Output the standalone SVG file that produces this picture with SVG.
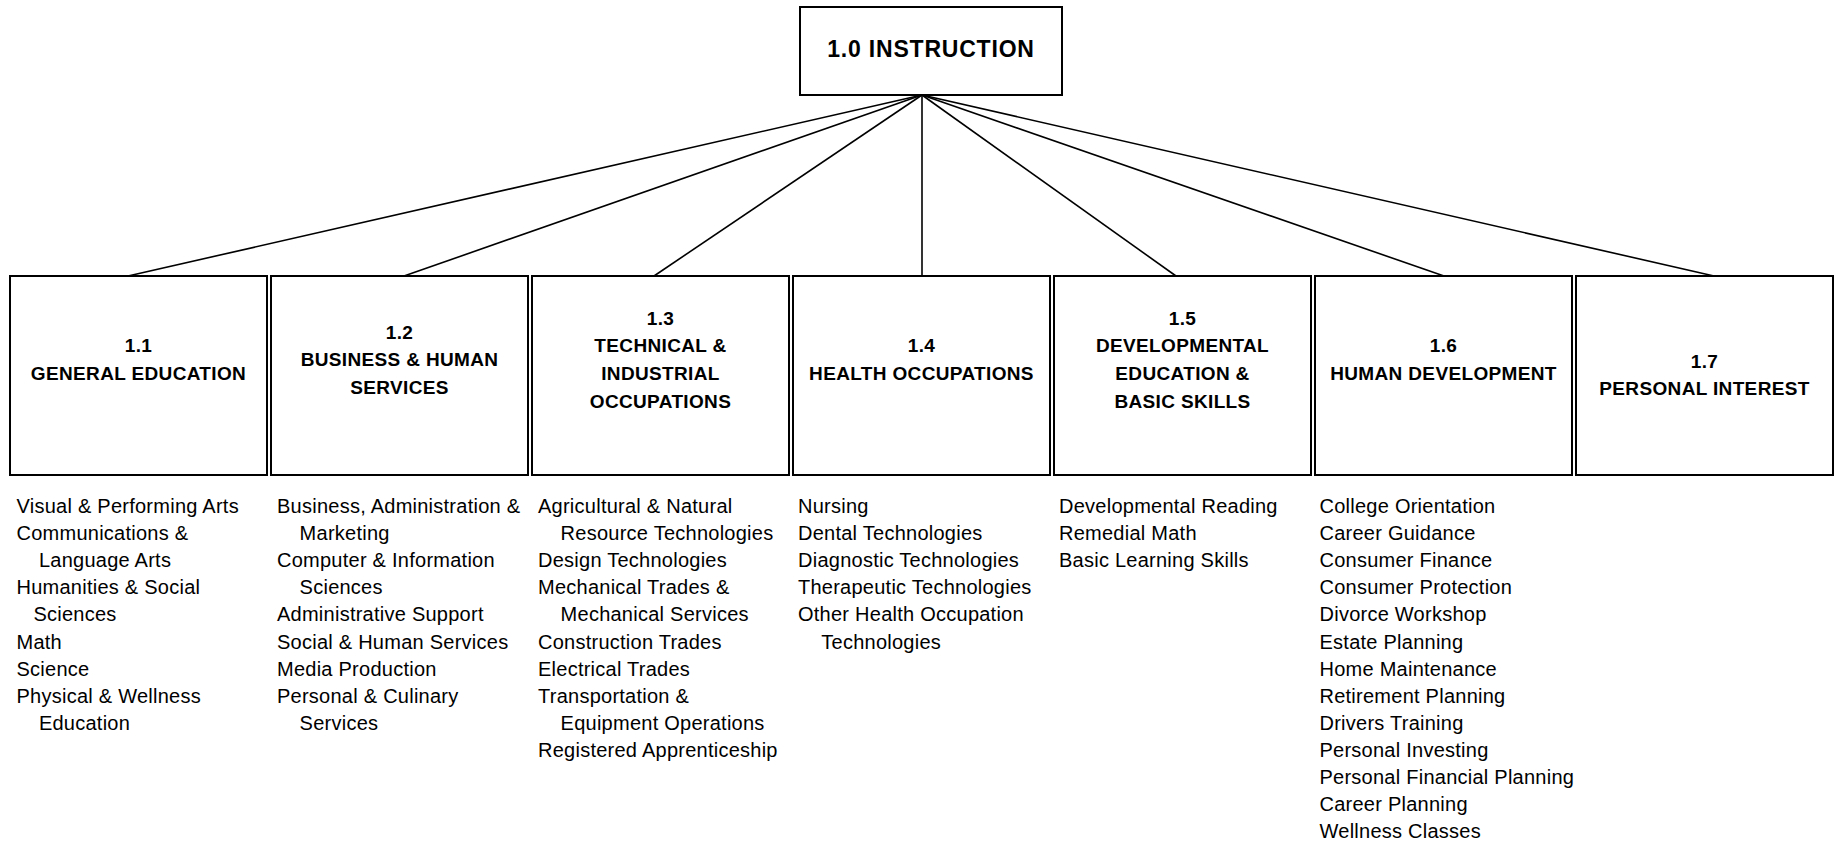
<svg xmlns="http://www.w3.org/2000/svg" width="1839" height="843" viewBox="0 0 1839 843">
<style>
.box{fill:#fff;stroke:#000;stroke-width:2}
.ttl{font-family:"Liberation Sans",Arial,sans-serif;font-weight:bold;font-size:19px;letter-spacing:0.35px;text-anchor:middle;fill:#000}
.top{font-family:"Liberation Sans",Arial,sans-serif;font-weight:bold;font-size:23px;letter-spacing:0.8px;text-anchor:middle;fill:#000}
.lst{font-family:"Liberation Sans",Arial,sans-serif;font-size:20px;letter-spacing:0.25px;fill:#000}
.con{stroke:#000;stroke-width:1.6;fill:none}
</style>
<rect width="1839" height="843" fill="#fff"/>
<g id="connectors">
<line class="con" x1="922" y1="95" x2="128" y2="276"/>
<line class="con" x1="922" y1="95" x2="404" y2="276"/>
<line class="con" x1="922" y1="95" x2="654" y2="276"/>
<line class="con" x1="922" y1="95" x2="922" y2="276"/>
<line class="con" x1="922" y1="95" x2="1176" y2="276"/>
<line class="con" x1="922" y1="95" x2="1444" y2="276"/>
<line class="con" x1="922" y1="95" x2="1714" y2="276"/>
</g>
<g id="n10">
<rect class="box" x="800" y="7" width="262" height="88"/>
<text class="top" x="931" y="57">1.0 INSTRUCTION</text>
</g>
<g id="n11">
<rect class="box" x="10" y="276" width="257" height="199"/>
<text class="ttl"><tspan x="138.5" y="352.4">1.1</tspan><tspan x="138.5" y="380.2">GENERAL EDUCATION</tspan></text>
<text class="lst"><tspan x="16.5" y="513">Visual &amp; Performing Arts</tspan><tspan x="16.5" y="540.1">Communications &amp;</tspan><tspan x="38.9" y="567.2">Language Arts</tspan><tspan x="16.5" y="594.3">Humanities &amp; Social</tspan><tspan x="33.4" y="621.4">Sciences</tspan><tspan x="16.5" y="648.5">Math</tspan><tspan x="16.5" y="675.6">Science</tspan><tspan x="16.5" y="702.7">Physical &amp; Wellness</tspan><tspan x="38.9" y="729.8">Education</tspan></text>
</g>
<g id="n12">
<rect class="box" x="271" y="276" width="257" height="199"/>
<text class="ttl"><tspan x="399.5" y="338.5">1.2</tspan><tspan x="399.5" y="366.3">BUSINESS &amp; HUMAN</tspan><tspan x="399.5" y="394.1">SERVICES</tspan></text>
<text class="lst"><tspan x="277" y="513">Business, Administration &amp;</tspan><tspan x="299.6" y="540.1">Marketing</tspan><tspan x="277" y="567.2">Computer &amp; Information</tspan><tspan x="299.6" y="594.3">Sciences</tspan><tspan x="277" y="621.4">Administrative Support</tspan><tspan x="277" y="648.5">Social &amp; Human Services</tspan><tspan x="277" y="675.6">Media Production</tspan><tspan x="277" y="702.7">Personal &amp; Culinary</tspan><tspan x="299.6" y="729.8">Services</tspan></text>
</g>
<g id="n13">
<rect class="box" x="532" y="276" width="257" height="199"/>
<text class="ttl"><tspan x="660.5" y="324.6">1.3</tspan><tspan x="660.5" y="352.4">TECHNICAL &amp;</tspan><tspan x="660.5" y="380.2">INDUSTRIAL</tspan><tspan x="660.5" y="408">OCCUPATIONS</tspan></text>
<text class="lst"><tspan x="538" y="513">Agricultural &amp; Natural</tspan><tspan x="560.6" y="540.1">Resource Technologies</tspan><tspan x="538" y="567.2">Design Technologies</tspan><tspan x="538" y="594.3">Mechanical Trades &amp;</tspan><tspan x="560.6" y="621.4">Mechanical Services</tspan><tspan x="538" y="648.5">Construction Trades</tspan><tspan x="538" y="675.6">Electrical Trades</tspan><tspan x="538" y="702.7">Transportation &amp;</tspan><tspan x="560.6" y="729.8">Equipment Operations</tspan><tspan x="538" y="756.9">Registered Apprenticeship</tspan></text>
</g>
<g id="n14">
<rect class="box" x="793" y="276" width="257" height="199"/>
<text class="ttl"><tspan x="921.5" y="352.4">1.4</tspan><tspan x="921.5" y="380.2">HEALTH OCCUPATIONS</tspan></text>
<text class="lst"><tspan x="798" y="513">Nursing</tspan><tspan x="798" y="540.1">Dental Technologies</tspan><tspan x="798" y="567.2">Diagnostic Technologies</tspan><tspan x="798" y="594.3">Therapeutic Technologies</tspan><tspan x="798" y="621.4">Other Health Occupation</tspan><tspan x="821.3" y="648.5">Technologies</tspan></text>
</g>
<g id="n15">
<rect class="box" x="1054" y="276" width="257" height="199"/>
<text class="ttl"><tspan x="1182.5" y="324.6">1.5</tspan><tspan x="1182.5" y="352.4">DEVELOPMENTAL</tspan><tspan x="1182.5" y="380.2">EDUCATION &amp;</tspan><tspan x="1182.5" y="408">BASIC SKILLS</tspan></text>
<text class="lst"><tspan x="1059" y="513">Developmental Reading</tspan><tspan x="1059" y="540.1">Remedial Math</tspan><tspan x="1059" y="567.2">Basic Learning Skills</tspan></text>
</g>
<g id="n16">
<rect class="box" x="1315" y="276" width="257" height="199"/>
<text class="ttl"><tspan x="1443.5" y="352.4">1.6</tspan><tspan x="1443.5" y="380.2">HUMAN DEVELOPMENT</tspan></text>
<text class="lst"><tspan x="1319.5" y="513">College Orientation</tspan><tspan x="1319.5" y="540.1">Career Guidance</tspan><tspan x="1319.5" y="567.2">Consumer Finance</tspan><tspan x="1319.5" y="594.3">Consumer Protection</tspan><tspan x="1319.5" y="621.4">Divorce Workshop</tspan><tspan x="1319.5" y="648.5">Estate Planning</tspan><tspan x="1319.5" y="675.6">Home Maintenance</tspan><tspan x="1319.5" y="702.7">Retirement Planning</tspan><tspan x="1319.5" y="729.8">Drivers Training</tspan><tspan x="1319.5" y="756.9">Personal Investing</tspan><tspan x="1319.5" y="784">Personal Financial Planning</tspan><tspan x="1319.5" y="811.1">Career Planning</tspan><tspan x="1319.5" y="838.2">Wellness Classes</tspan></text>
</g>
<g id="n17">
<rect class="box" x="1576" y="276" width="257" height="199"/>
<text class="ttl"><tspan x="1704.5" y="367.6">1.7</tspan><tspan x="1704.5" y="395.4">PERSONAL INTEREST</tspan></text>
</g>
</svg>
